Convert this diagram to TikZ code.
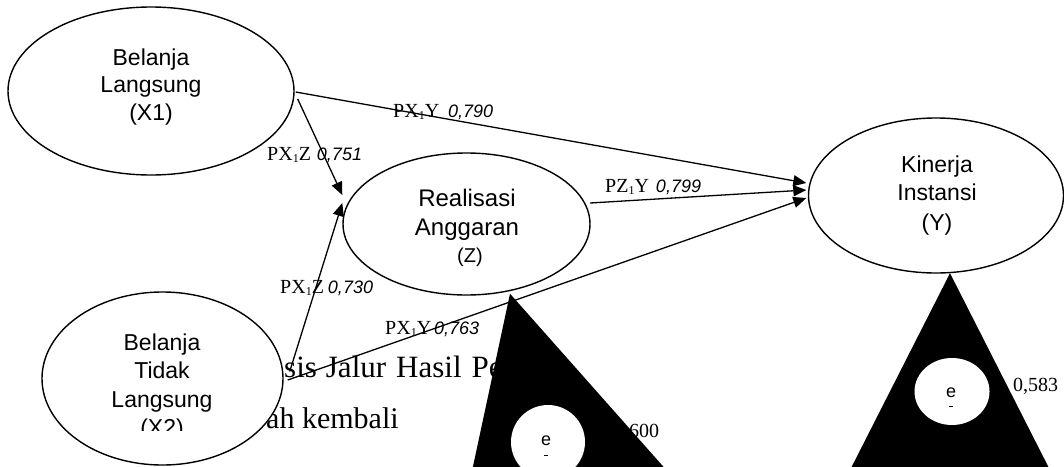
\documentclass[tikz,border=0pt]{standalone}
\usepackage{fontspec}
\setmainfont{Liberation Serif}
\newfontfamily\arialf{Liberation Sans}
\usetikzlibrary{shapes.geometric,arrows.meta}
\newcommand{\subone}{\raisebox{-2.5pt}{\fontsize{12}{12}\selectfont 1}}
\newcommand{\pathlab}[3]{#1\hspace{#2pt}{\arialf\itshape\fontsize{18}{18}\selectfont #3}}
\begin{document}
\begin{tikzpicture}[x=1pt,y=-1pt,
  ell/.style={draw, ellipse, line width=1.4pt, fill=white, inner sep=0pt},
  lname/.style={font=\arialf\fontsize{23}{27}\selectfont, anchor=base, inner sep=0pt},
  lnamez/.style={font=\arialf\fontsize{24}{28}\selectfont, anchor=base, inner sep=0pt},
  lnamesmall/.style={font=\arialf\fontsize{20}{24}\selectfont, anchor=base, inner sep=0pt},
  plabel/.style={font=\fontsize{20}{24}\selectfont, anchor=base west, inner sep=0pt},
  bgtext/.style={font=\fontsize{31}{35}\selectfont, anchor=base west, inner sep=0pt},
  bgtextb/.style={font=\fontsize{30}{34}\selectfont, anchor=base west, inner sep=0pt},
  conn/.style={line width=1.3pt, -{Triangle[length=13pt,width=11pt]}},
  ecirc/.style={ellipse, fill=white, inner sep=0pt},
  etext/.style={font=\arialf\fontsize{18}{18}\selectfont, anchor=base, inner sep=0pt},
]
\useasboundingbox (0,0) rectangle (1064,466);
\clip (0,0) rectangle (1064,466);
\fill[white] (0,0) rectangle (1064,466);

% caption text lying behind the figure
\node[bgtext] (cap1) at (284,377) {sis\hspace{9pt}Jalur\hspace{10pt}Hasil\hspace{10pt}Per};
\node[bgtextb] (cap2) at (266,428) {ah kembali};

% residual values
\node[plabel] (v1) at (629,437) {600};
\node[plabel] (v2) at (1013,391) {0,583};

% ellipses
\node[ell, minimum width=286pt, minimum height=168pt] (X1) at (151,91) {};
\node[ell, minimum width=247pt, minimum height=142pt] (Z) at (466.5,224) {};
\node[ell, minimum width=255pt, minimum height=155pt] (Y) at (936,195.5) {};
\node[ell, minimum width=241pt, minimum height=173pt] (X2) at (162.5,378.5) {};

% ellipse texts
\node[lname] (x1a) at (151,65) {Belanja};
\node[lname] (x1b) at (151,92) {Langsung};
\node[lname] (x1c) at (151,120) {(X1)};

\node[lnamez] (za) at (467,206) {Realisasi};
\node[lnamez] (zb) at (467,235) {Anggaran};
\node[lnamesmall] (zc) at (470,262) {(Z)};

\node[lname] (ya) at (937,172) {Kinerja};
\node[lname] (yb) at (937,200) {Instansi};
\node[lname] (yc) at (937,230) {(Y)};

\node[lname] (x2a) at (162,350) {Belanja};
\node[lname] (x2b) at (162,378) {Tidak};
\node[lname] (x2c) at (162,407) {Langsung};
\begin{scope}
  \clip (0,0) rectangle (1064,430);
  \node[lname] (x2d) at (162,435) {(X2)};
\end{scope}

% connectors
\draw[conn] ([shift={(1,1)}]X1.east) -- ([shift={(-1.5,-12.5)}]Y.west);
\draw[conn] ([shift={(3,8)}]X1.east) -- ([shift={(0,-29)}]Z.west);
\draw[conn] ([shift={(-0.5,-21)}]Z.east) -- ([shift={(-1.5,-5.5)}]Y.west);
\draw[conn] ([shift={(6,-7)}]X2.east) -- ([shift={(0,-21)}]Z.west);
\draw[conn] ([shift={(4,1.5)}]X2.east) -- ([shift={(-1.5,2.5)}]Y.west);

% path labels
\node[plabel] (l1) at (393,117) {\pathlab{PX\subone Y}{9}{0,790}};
\node[plabel] (l2) at (267,160) {\pathlab{PX\subone Z}{6}{0,751}};
\node[plabel] (l3) at (605,192) {\pathlab{PZ\subone Y}{7}{0,799}};
\node[plabel] (l4) at (280,293) {\pathlab{PX\subone Z}{4}{0,730}};
\node[plabel] (l5) at (385,334) {\pathlab{PX\subone Y}{3}{0,763}};

% error terms: large black arrowheads
\coordinate (tz) at ([shift={(43.5,-2)}]Z.south);
\coordinate (ty) at ([shift={(14,-0.5)}]Y.south);
\fill[black] (tz) -- (465.8,500) -- (692.9,500) -- cycle;
\fill[black] (ty) -- (834.8,500) -- (1065.2,500) -- cycle;

\node[ecirc, minimum width=74pt, minimum height=74pt] (e1) at (548,442) {};
\node[ecirc, minimum width=75pt, minimum height=67pt] (e2) at (952,391.5) {};
\node[etext] (e1t) at (546,445) {e};
\node[etext] (e2t) at (951,397) {e};
\draw[line width=0.8pt] ([shift={(-2,10)}]e1t.base) -- ([shift={(2,10)}]e1t.base);
\draw[line width=0.8pt] ([shift={(-2,9)}]e2t.base) -- ([shift={(2,9)}]e2t.base);
\end{tikzpicture}
\end{document}
